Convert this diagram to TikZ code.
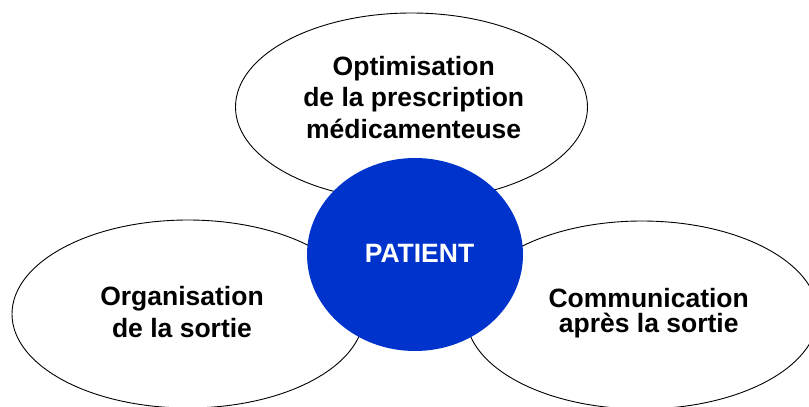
\documentclass[tikz,border=0pt]{standalone}
\usepackage{fontspec}
\setmainfont{Liberation Sans}
\usetikzlibrary{shapes.geometric}
\definecolor{patientblue}{RGB}{0,51,204}
\begin{document}
\begin{tikzpicture}[x=1pt,y=-1pt,
  theme/.style={ellipse, draw=black, line width=0.9pt, fill=white,
    minimum width=352pt, minimum height=188pt, inner sep=0pt},
  hub/.style={ellipse, fill=patientblue, minimum width=216pt,
    minimum height=193pt, inner sep=0pt},
  label/.style={align=center, inner sep=0pt, text=black,
    font=\bfseries\fontsize{26.5}{31.5}\selectfont}]
  \useasboundingbox (0,0) rectangle (809,407);

  % three surrounding themes
  \node[theme] (top)   at (411.5,107) {};
  \node[theme] (left)  at (188,314)   {};
  \node[theme] (right) at (642,315)   {};

  % central patient disc
  \node[hub] (patient) at (415,254.5) {};
  \node[anchor=base, inner sep=0pt, text=white,
    font=\bfseries\fontsize{26.5}{31.5}\selectfont] (patienttxt) at (419.5,262.7) {PATIENT};

  % theme captions
  \node[label] (toptxt) at (413.7,97.2)
    {Optimisation\\de la prescription\\médicamenteuse};
  \node[label] (lefttxt) at (182,312)
    {Organisation\\de la sortie};
  \node[label, font=\bfseries\fontsize{26.5}{25.4}\selectfont] (righttxt) at (648.7,313.3)
    {Communication\\après la sortie};
\end{tikzpicture}
\end{document}
